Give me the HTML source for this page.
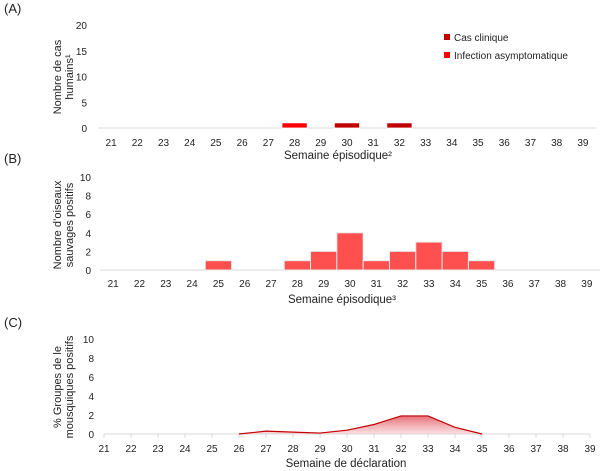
<!DOCTYPE html>
<html><head><meta charset="utf-8">
<style>
body{margin:0;background:#fff;}
svg{display:block;font-family:"Liberation Sans",sans-serif;}
</style></head>
<body>
<svg id="c" width="615" height="471" xmlns="http://www.w3.org/2000/svg">
<defs><linearGradient id="g" x1="0" y1="0" x2="0" y2="1"><stop offset="0" stop-color="#e0404a" stop-opacity="0.75"/><stop offset="1" stop-color="#f7c9cc" stop-opacity="0.6"/></linearGradient></defs>
</svg>
<script>
const weeks=[21,22,23,24,25,26,27,28,29,30,31,32,33,34,35,36,37,38,39];
const humanClinical=[0,0,0,0,0,0,0,0,0,1,0,1,0,0,0,0,0,0,0];
const humanAsymp=[0,0,0,0,0,0,0,1,0,0,0,0,0,0,0,0,0,0,0];
const humanTicks=[0,5,10,15,20];
const birds=[0,0,0,0,1,0,0,1,2,4,1,2,3,2,1,0,0,0,0];
const birdTicks=[0,2,4,6,8,10];
const mosqWeeks=[26,27,28,29,30,31,32,33,34,35];
const mosqPct=[0,0.3,0.2,0.1,0.4,1.0,1.9,1.9,0.7,0];
const mosqTicks=[0,2,4,6,8,10];

const svg=document.getElementById('c');
const NS='http://www.w3.org/2000/svg';
function mk(tag,attrs,parent){const e=document.createElementNS(NS,tag);for(const k in attrs)e.setAttribute(k,attrs[k]);(parent||svg).appendChild(e);return e;}
function txt(s,x,y,opts,parent){const t=mk('text',Object.assign({x:x,y:y,'font-size':11,fill:'#222'},opts||{}),parent);t.textContent=s;return t;}

[['(A)',13],['(B)',163],['(C)',327]].forEach(p=>{
 const t=txt(p[0],4,p[1],{'font-size':13});
 
 
});

function yTitle(l1,l2,cy){
 const g=mk('g',{transform:'translate(63,'+cy+') rotate(-90)'});
 
 
 txt(l1,0,-2,{'text-anchor':'middle','font-size':11},g);
 txt(l2,0,10,{'text-anchor':'middle','font-size':11},g);
}
function xTitle(s,cx,y){
 const t=txt(s,cx,y,{'text-anchor':'middle','font-size':11.5});
 
 
}

// Panel A
(function(){
 const x0=98,x1=596,y0=128,yTop=25,max=20,bw=(x1-x0)/weeks.length;
 const ys=v=>y0-(v/max)*(y0-yTop);
 const g=mk('g',{});
 const ax=mk('line',{x1:x0,x2:x1,y1:y0,y2:y0,stroke:'#d9d9d9'},g);
 
 humanTicks.forEach(v=>{const t=txt(v,87,ys(v)+4,{'text-anchor':'end','font-size':10},g);});
 weeks.forEach((w,i)=>{
  const t=txt(w,x0+bw*(i+0.5),146,{'text-anchor':'middle','font-size':10},g);
  
  if(humanClinical[i]>0){const r=mk('rect',{x:x0+bw*i+0.5,y:ys(humanClinical[i]),width:bw-1,height:y0-ys(humanClinical[i]),fill:'#c00000',stroke:'#fff','stroke-width':0.8},g);}
  if(humanAsymp[i]>0){const r=mk('rect',{x:x0+bw*i+0.5,y:ys(humanAsymp[i]+humanClinical[i]),width:bw-1,height:ys(humanClinical[i])-ys(humanAsymp[i]+humanClinical[i]),fill:'#ff0000',stroke:'#fff','stroke-width':0.8},g);}
 });
 const l1=mk('g',{});
 mk('rect',{x:444,y:34,width:6,height:6,fill:'#c00000'},l1);txt('Cas clinique',454,41,{'font-size':10},l1);
 const l2=mk('g',{});
 mk('rect',{x:444,y:52,width:6,height:6,fill:'#ff0000'},l2);txt('Infection asymptomatique',454,59,{'font-size':10},l2);
 yTitle('Nombre de cas','humains\u00b9',77);
 xTitle('Semaine \u00e9pisodique\u00b2',338,159);
})();

// Panel B
(function(){
 const x0=100,x1=600,y0=270,yTop=177,max=10,bw=(x1-x0)/weeks.length;
 const ys=v=>y0-(v/max)*(y0-yTop);
 const g=mk('g',{});
 const ax=mk('line',{x1:x0,x2:x1,y1:y0,y2:y0,stroke:'#d9d9d9'},g);
 
 birdTicks.forEach(v=>{const t=txt(v,91,ys(v)+4,{'text-anchor':'end','font-size':10},g);});
 weeks.forEach((w,i)=>{
  const t=txt(w,x0+bw*(i+0.5),287,{'text-anchor':'middle','font-size':10},g);
  
  if(birds[i]>0){const r=mk('rect',{x:x0+bw*i,y:ys(birds[i]),width:bw,height:y0-ys(birds[i]),fill:'#ff5050',stroke:'#e8e8e8','stroke-width':1},g);}
 });
 yTitle('Nombre d\u2019oiseaux','sauvages positifs',225);
 xTitle('Semaine \u00e9pisodique\u00b3',342,303);
})();

// Panel C
(function(){
 const x0=104,x1=590,y0=434,yTop=339,max=10,step=(x1-x0)/(weeks.length-1);
 const xs=w=>x0+(w-weeks[0])*step, ys=v=>y0-(v/max)*(y0-yTop);
 const g=mk('g',{});
 const ax=mk('line',{x1:x0,x2:x1,y1:y0,y2:y0,stroke:'#d9d9d9'},g);
 
 mosqTicks.forEach(v=>{const t=txt(v,94,ys(v)+4,{'text-anchor':'end','font-size':10},g);});
 weeks.forEach(w=>{
  mk('line',{x1:xs(w),x2:xs(w),y1:y0,y2:y0+4,stroke:'#d9d9d9'},g);
  const t=txt(w,xs(w),452,{'text-anchor':'middle','font-size':10},g);
  
 });
 let pts=mosqWeeks.map((w,i)=>xs(w)+','+ys(mosqPct[i]));
 const area=mk('polygon',{points:xs(mosqWeeks[0])+','+y0+' '+pts.join(' ')+' '+xs(mosqWeeks[mosqWeeks.length-1])+','+y0,fill:'url(#g)'},g);
 
 const line=mk('polyline',{points:pts.join(' '),fill:'none',stroke:'#c00000','stroke-width':1.2},g);
 
 yTitle('% Groupes de le','mousquiques positifs',387);
 xTitle('Semaine de d\u00e9claration',346,467);
})();
</script>
</body></html>
